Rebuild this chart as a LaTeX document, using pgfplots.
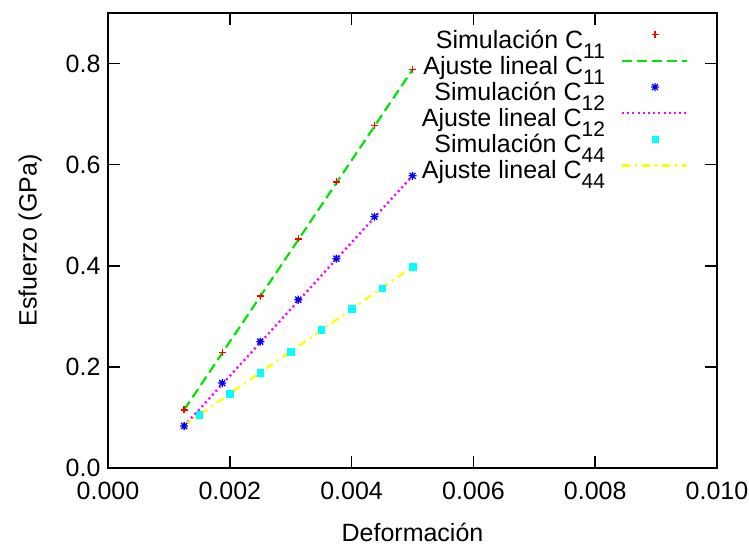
\documentclass[border=0pt]{standalone}
\usepackage{pgfplots}
\pgfplotsset{compat=1.18}
\usepackage{fontspec}
\setmainfont{Liberation Sans}

% gnuplot style "*" point: plus and cross together
\pgfdeclareplotmark{gpstar}{%
  \pgfpathmoveto{\pgfqpoint{-\pgfplotmarksize}{0pt}}\pgfpathlineto{\pgfqpoint{\pgfplotmarksize}{0pt}}%
  \pgfpathmoveto{\pgfqpoint{0pt}{-\pgfplotmarksize}}\pgfpathlineto{\pgfqpoint{0pt}{\pgfplotmarksize}}%
  \pgfpathmoveto{\pgfqpoint{-.75\pgfplotmarksize}{-.75\pgfplotmarksize}}\pgfpathlineto{\pgfqpoint{.75\pgfplotmarksize}{.75\pgfplotmarksize}}%
  \pgfpathmoveto{\pgfqpoint{-.75\pgfplotmarksize}{.75\pgfplotmarksize}}\pgfpathlineto{\pgfqpoint{.75\pgfplotmarksize}{-.75\pgfplotmarksize}}%
  \pgfusepathqstroke}

\definecolor{gpred}{RGB}{255,0,0}
\definecolor{gpgreen}{RGB}{0,230,0}
\definecolor{gpblue}{RGB}{0,0,255}
\definecolor{gpmagenta}{RGB}{255,0,255}
\definecolor{gpcyan}{RGB}{0,255,255}
\definecolor{gpyellow}{RGB}{255,255,0}
\newcommand{\sub}[1]{\raisebox{-0.4em}[0pt][0pt]{\fontsize{21}{21}\selectfont #1}}
\pgfplotsset{
  linelegend/.style={legend image code/.code={\path[draw=none, fill=none] (0pt,2pt) rectangle (82pt,14pt); \draw[##1] (17pt,8pt) -- (82pt,8pt);}},
  marklegend/.style={legend image code/.code={\path[draw=none, fill=none] (0pt,2pt) rectangle (82pt,14pt); \draw[##1] plot coordinates {(50pt,8pt)};}},
}

\begin{document}
\begin{tikzpicture}
\useasboundingbox (-108pt,-77pt) rectangle (641pt,468pt);
\begin{axis}[
    at={(0,0)}, anchor=south west,
    scale only axis, width=609pt, height=455pt,
    font=\fontsize{25}{29}\selectfont,
    xmin=0, xmax=0.01, ymin=0, ymax=0.9,
    xtick={0,0.002,...,0.0101}, ytick={0,0.2,...,0.81},
    scaled x ticks=false,
    xticklabel style={yshift=-11pt, /pgf/number format/.cd, fixed, fixed zerofill, precision=3, assume math mode=true},
    yticklabel style={xshift=-4pt, /pgf/number format/.cd, fixed, fixed zerofill, precision=1, assume math mode=true},
    tick align=inside, major tick length=12pt,
    axis line style={line width=1.6pt}, every tick/.style={black, line width=1.6pt},
    xlabel={Deformación}, ylabel={Esfuerzo (GPa)},
    xlabel style={at={(axis description cs:0.5,-0.141)}, anchor=center},
    ylabel style={at={(axis description cs:-0.128,0.5)}, anchor=center},
    legend cell align=right, legend plot pos=right,
    legend style={at={(axis description cs:0.958,0.970)}, anchor=north east,
        draw=none, fill=none, row sep=0.6pt, column sep=0pt,
        nodes={inner sep=0pt, text height=17pt, text depth=6pt}},
]
\addplot[only marks, color=gpred, mark=+, mark size=3.5pt, line width=1.3pt,
    mark options={gpred}, marklegend] coordinates {
  (0.00125,0.115) (0.001875,0.228) (0.0025,0.340) (0.003125,0.453)
  (0.00375,0.566) (0.004375,0.677) (0.005,0.788)
};
\addlegendentry{Simulación C\sub{11}}
\addplot[gpgreen, line width=2.2pt, dash pattern=on 10pt off 5pt, linelegend] coordinates {
  (0.00125,0.115) (0.005,0.788)
};
\addlegendentry{Ajuste lineal C\sub{11}}
\addplot[only marks, color=gpblue, mark=gpstar, mark size=4pt, line width=1.3pt, marklegend] coordinates {
  (0.00125,0.083) (0.001875,0.168) (0.0025,0.250) (0.003125,0.333)
  (0.00375,0.414) (0.004375,0.497) (0.005,0.578)
};
\addlegendentry{Simulación C\sub{12}}
\addplot[gpmagenta, line width=2.4pt, dash pattern=on 2pt off 3.2pt, linelegend] coordinates {
  (0.00125,0.083) (0.005,0.578)
};
\addlegendentry{Ajuste lineal C\sub{12}}
\addplot[only marks, color=gpcyan, mark=square*, mark size=3.3pt, marklegend] coordinates {
  (0.0015,0.105) (0.002,0.1465) (0.0025,0.188) (0.003,0.230)
  (0.0035,0.273) (0.004,0.315) (0.0045,0.356) (0.005,0.398)
};
\addlegendentry{Simulación C\sub{44}}
\addplot[gpyellow, line width=2.4pt, dash pattern=on 8pt off 5pt on 2pt off 5pt, linelegend] coordinates {
  (0.00125,0.084) (0.005,0.398)
};
\addlegendentry{Ajuste lineal C\sub{44}}
\end{axis}
\end{tikzpicture}
\end{document}
